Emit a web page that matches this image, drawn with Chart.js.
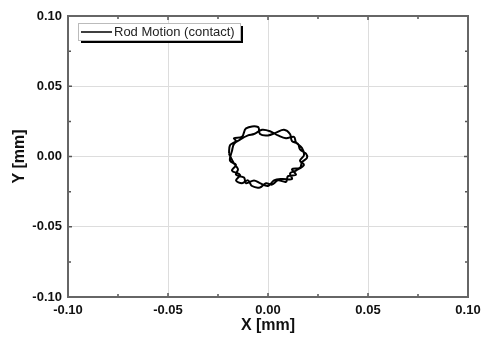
<!DOCTYPE html>
<html>
<head>
    <meta charset="utf-8">
    <script src="https://cdn.jsdelivr.net/npm/chart.js"></script>
    <title>Rod Motion</title>
    <style>
        html, body { margin: 0; padding: 0; background: #fff; }
    </style>
</head>
<body>
    <canvas id="chartRod" width="485" height="338"></canvas>

    <script type="text/javascript">
        // Trayectoria de la varilla (mm), dos vueltas
        const rodX = [
            -0.0195, -0.019, -0.016, -0.017, -0.013, -0.011, -0.005, -0.004, 0.000, 0.004,
            0.008, 0.011, 0.012, 0.015, 0.016, 0.019, 0.0195, 0.017, 0.016, 0.012,
            0.014, 0.010, 0.009, 0.005, 0.002, -0.001, -0.004, -0.008, -0.010, -0.013,
            -0.016, -0.014, -0.018, -0.016, -0.019, -0.018,
            -0.017, -0.014, -0.010, -0.007, -0.003, 0.001, 0.005, 0.009, 0.013, 0.014,
            0.017, 0.018, 0.016, 0.018, 0.014, 0.011, 0.012, 0.007, 0.003, 0.000,
            -0.004, -0.007, -0.011, -0.012, -0.016, -0.015, -0.017, -0.0195
        ];
        const rodY = [
            0.002, 0.008, 0.011, 0.013, 0.014, 0.020, 0.021, 0.016, 0.015, 0.017,
            0.019, 0.016, 0.011, 0.009, 0.005, 0.002, -0.001, -0.004, -0.008, -0.009,
            -0.013, -0.014, -0.018, -0.017, -0.020, -0.019, -0.022, -0.021, -0.017, -0.019,
            -0.017, -0.013, -0.010, -0.006, -0.003, 0.004,
            0.009, 0.012, 0.015, 0.016, 0.019, 0.018, 0.015, 0.013, 0.014, 0.010,
            0.006, 0.001, -0.003, -0.006, -0.010, -0.012, -0.016, -0.016, -0.017, -0.021,
            -0.019, -0.017, -0.019, -0.015, -0.013, -0.009, -0.005, 0.002
        ];
        const xTicks = [-0.10, -0.05, 0.00, 0.05, 0.10];
        const yTicks = [-0.10, -0.05, 0.00, 0.05, 0.10];
        const minorStep = 0.025;
        const seriesLabel = 'Rod Motion (contact)';

        const points = rodX.map((x, i) => ({ x: x, y: rodY[i] }));

        // marcas de escala hacia adentro y leyenda con sombra
        const frameTicks = {
            id: 'frameTicks',
            afterDatasetsDraw(chart) {
                const ctx = chart.ctx;
                const a = chart.chartArea;
                const xs = chart.scales.x, ys = chart.scales.y;
                ctx.save();
                ctx.strokeStyle = '#555';
                ctx.lineWidth = 1.5;
                for (let v = -0.1; v <= 0.1001; v += minorStep) {
                    const major = Math.abs(Math.round(v / 0.05) * 0.05 - v) < 1e-6;
                    const len = major ? 4 : 3;
                    const px = xs.getPixelForValue(v);
                    const py = ys.getPixelForValue(v);
                    ctx.beginPath();
                    ctx.moveTo(px, a.bottom); ctx.lineTo(px, a.bottom - len);
                    ctx.moveTo(px, a.top); ctx.lineTo(px, a.top + len);
                    ctx.moveTo(a.left, py); ctx.lineTo(a.left + len, py);
                    ctx.moveTo(a.right, py); ctx.lineTo(a.right - len, py);
                    ctx.stroke();
                }
                ctx.strokeStyle = '#666';
                ctx.lineWidth = 2;
                ctx.strokeRect(a.left, a.top, a.right - a.left, a.bottom - a.top);

                // leyenda
                const bx = a.left + 10, by = a.top + 7, bw = 162, bh = 17;
                ctx.fillStyle = '#000';
                ctx.fillRect(bx + 3, by + 3, bw, bh);
                ctx.fillStyle = '#fff';
                ctx.fillRect(bx, by, bw, bh);
                ctx.strokeStyle = '#bbb';
                ctx.lineWidth = 1;
                ctx.strokeRect(bx + 0.5, by + 0.5, bw, bh);
                ctx.strokeStyle = '#000';
                ctx.lineWidth = 1.5;
                ctx.beginPath();
                ctx.moveTo(bx + 3, by + 9); ctx.lineTo(bx + 34, by + 9);
                ctx.stroke();
                ctx.fillStyle = '#222';
                ctx.font = '13px "Liberation Sans", Arial, sans-serif';
                ctx.textBaseline = 'middle';
                ctx.fillText(seriesLabel, bx + 36, by + 9.5);
                ctx.restore();
            }
        };

        const tickFont = { family: '"Liberation Sans", Arial, sans-serif', size: 13, weight: 'bold' };
        const titleFont = { family: '"Liberation Sans", Arial, sans-serif', size: 16, weight: 'bold' };

        new Chart(document.getElementById('chartRod'), {
            type: 'scatter',
            data: {
                datasets: [{
                    label: seriesLabel,
                    data: points,
                    showLine: true,
                    tension: 0.35,
                    borderColor: '#000',
                    borderWidth: 2,
                    pointRadius: 0,
                    fill: false
                }]
            },
            options: {
                responsive: false,
                animation: false,
                devicePixelRatio: 1,
                layout: { padding: { top: 16, right: 17, left: 10, bottom: 0 } },
                plugins: { legend: { display: false }, tooltip: { enabled: false } },
                scales: {
                    x: {
                        min: -0.1, max: 0.1,
                        afterBuildTicks: s => { s.ticks = xTicks.map(v => ({ value: v })); },
                        afterFit: s => { s.height = 41; s.paddingRight = 0; s.paddingLeft = 0; },
                        ticks: {
                            color: '#111', font: tickFont, padding: 6,
                            maxRotation: 0, autoSkip: false,
                            callback: v => v.toFixed(2)
                        },
                        grid: { color: '#ddd', lineWidth: 1, drawTicks: false },
                        border: { display: false },
                        title: { display: true, text: 'X [mm]', color: '#111', font: titleFont, padding: { top: 0, bottom: 3 } }
                    },
                    y: {
                        min: -0.1, max: 0.1,
                        afterBuildTicks: s => { s.ticks = yTicks.map(v => ({ value: v })); },
                        afterFit: s => { s.width = 58; s.paddingTop = 0; s.paddingBottom = 0; },
                        ticks: {
                            color: '#111', font: tickFont, padding: 6,
                            autoSkip: false,
                            callback: v => v.toFixed(2)
                        },
                        grid: { color: '#ddd', lineWidth: 1, drawTicks: false },
                        border: { display: false },
                        title: { display: true, text: 'Y [mm]', color: '#111', font: titleFont, padding: { top: 0, bottom: 4 } }
                    }
                }
            },
            plugins: [frameTicks]
        });
    </script>
</body>
</html>
